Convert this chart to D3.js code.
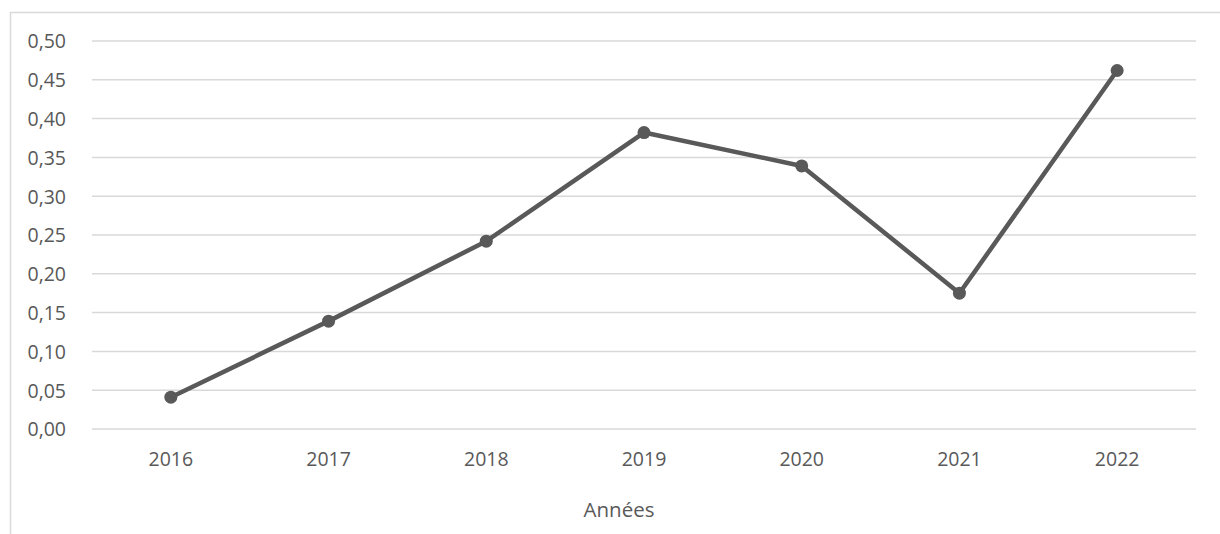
<!DOCTYPE html>
<html><head><meta charset="utf-8">
<script src="https://cdn.jsdelivr.net/npm/d3@7"></script>
<style>body{margin:0;background:#fff;}svg{display:block;}</style>
</head><body>
<svg id="c" width="1220" height="534"></svg>
<script>
const years = ["2016","2017","2018","2019","2020","2021","2022"];
const values = [0.041, 0.139, 0.242, 0.382, 0.339, 0.175, 0.462];
const yTicks = [0,0.05,0.10,0.15,0.20,0.25,0.30,0.35,0.40,0.45,0.50];
const xTitle = "Années";

const svg = d3.select("#c");
const font = "'Open Sans', 'Liberation Sans', sans-serif";
svg.append("rect").attr("x",10.5).attr("y",12.5).attr("width",1230).attr("height",540)
  .attr("fill","none").attr("stroke","#d9d9d9").attr("stroke-width",1.5);

const x = d3.scaleBand().domain(years).range([92,1196]);
const y = d3.scaleLinear().domain([0,0.5]).range([429,41]);

const grid = svg.append("g");
grid.selectAll("line").data(yTicks).join("line")
  .attr("x1",92).attr("x2",1196).attr("y1",d=>y(d)).attr("y2",d=>y(d))
  .attr("stroke","#d9d9d9").attr("stroke-width",1.5);

const yAxis = svg.append("g").attr("transform","translate(66,0)")
  .call(d3.axisLeft(y).tickValues(yTicks).tickSize(0).tickPadding(0)
    .tickFormat(d=>d3.format(".2f")(d).replace(".",",")));
yAxis.select(".domain").remove();
yAxis.selectAll("text").attr("font-family",font).attr("font-size",19.5).attr("fill","#595959").attr("dy","0.35em");

const xAxis = svg.append("g").attr("transform","translate(0,0)")
  .call(d3.axisBottom(x).tickSize(0).tickPadding(0));
xAxis.select(".domain").remove();
xAxis.selectAll("text").attr("font-family",font).attr("font-size",19.5).attr("fill","#595959")
  .attr("y",466).attr("dy",0);

svg.append("text").attr("x",619).attr("y",517).attr("text-anchor","middle")
  .attr("font-family",font).attr("font-size",20.5).attr("fill","#595959").text(xTitle);

const cx = d=>x(d)+x.bandwidth()/2;
svg.append("path").datum(values.map((v,i)=>[years[i],v]))
  .attr("d", d3.line().x(d=>cx(d[0])).y(d=>y(d[1])))
  .attr("fill","none").attr("stroke","#595959").attr("stroke-width",4.5).attr("stroke-linejoin","round");
svg.selectAll("circle.m").data(values).join("circle").attr("class","m")
  .attr("cx",(d,i)=>cx(years[i])).attr("cy",d=>y(d)).attr("r",6.5).attr("fill","#595959");
</script>
</body></html>
